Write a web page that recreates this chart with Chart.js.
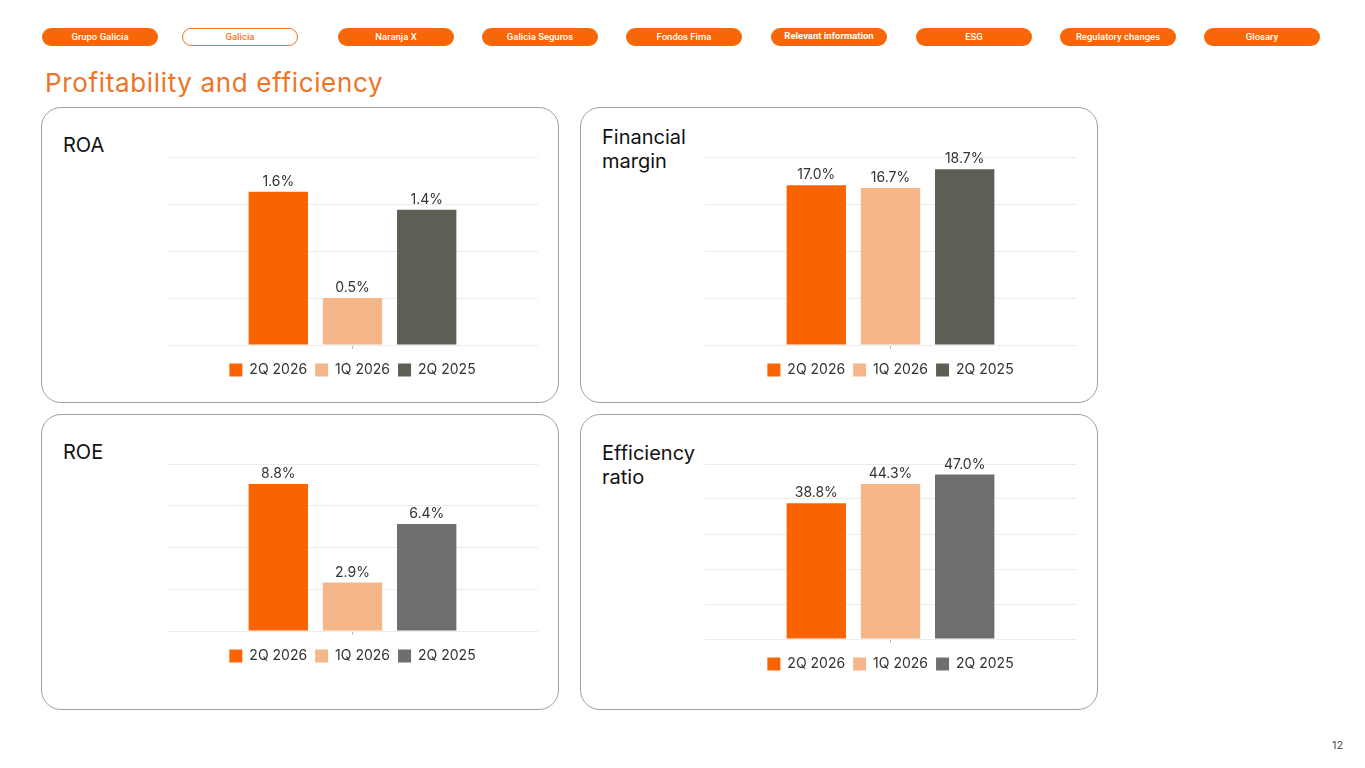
<!DOCTYPE html>
<html>
<head>
<meta charset="utf-8">
<title>Profitability and efficiency</title>
<script src="https://cdn.jsdelivr.net/npm/chart.js@4.4.1/dist/chart.umd.min.js"></script>
<style>
  html, body { margin: 0; padding: 0; background: #fff; }
  body { width: 1365px; height: 768px; position: relative; overflow: hidden; font-family: Inter, "Noto Sans", sans-serif; }
  .pill {
    position: absolute; top: 28px; width: 116px; height: 18px; box-sizing: border-box;
    border-radius: 9px; background: #f76707; color: #fff;
    font: 500 9.5px Roboto, sans-serif; line-height: 18px; text-align: center;
  }
  .pill.active { background: #fff; color: #f0782a; border: 1.5px solid #f0782a; line-height: 15px; }
  h1 {
    position: absolute; left: 45px; top: 67px; margin: 0;
    font: 400 26px Inter, sans-serif; letter-spacing: 0.65px; color: #ef7425; line-height: 32px;
  }
  .card {
    position: absolute; width: 518px; height: 296px; box-sizing: border-box;
    border: 1px solid #a0a0a0; border-radius: 20px;
  }
  .card-title {
    position: absolute; font: 400 20px Inter, sans-serif; line-height: 24px; color: #111;
  }
  canvas { position: absolute; }
  .page-num { position: absolute; left: 1332px; top: 738px; font: 400 11px Inter, sans-serif; color: #555; }
</style>
</head>
<body>

<div class="pill" style="left:42px">Grupo Galicia</div>
<div class="pill active" style="left:182px">Galicia</div>
<div class="pill" style="left:338px">Naranja X</div>
<div class="pill" style="left:482px">Galicia Seguros</div>
<div class="pill" style="left:626px">Fondos Fima</div>
<div class="pill" style="left:771px;line-height:16px;font-weight:700">Relevant information</div>
<div class="pill" style="left:916px">ESG</div>
<div class="pill" style="left:1060px">Regulatory changes</div>
<div class="pill" style="left:1204px">Glosary</div>

<h1>Profitability and efficiency</h1>

<div class="card" style="left:41px;top:107px"></div>
<div class="card" style="left:580px;top:107px"></div>
<div class="card" style="left:41px;top:414px"></div>
<div class="card" style="left:580px;top:414px"></div>

<div class="card-title" style="left:63px;top:133px">ROA</div>
<div class="card-title" style="left:602px;top:125px">Financial<br>margin</div>
<div class="card-title" style="left:63px;top:440px">ROE</div>
<div class="card-title" style="left:602px;top:441px">Efficiency<br>ratio</div>

<canvas id="roaChart" width="371" height="252" style="left:167px;top:135px"></canvas>
<canvas id="marginChart" width="371" height="252" style="left:705px;top:135px"></canvas>
<canvas id="roeChart" width="371" height="231" style="left:167px;top:442px"></canvas>
<canvas id="efficiencyChart" width="371" height="239" style="left:705px;top:442px"></canvas>

<div class="page-num">12</div>

<script>
// periods shown in every chart (one dataset each)
const periods = ["2Q 2026", "1Q 2026", "2Q 2025"];

// values in %
const roaValues = [1.63, 0.5, 1.44];
const marginValues = [17.0, 16.7, 18.7];
const roeValues = [8.8, 2.9, 6.4];
const efficiencyValues = [38.8, 44.3, 47.0];

// axis ranges
const roaAxis = { max: 2, step: 0.5 };
const marginAxis = { max: 20, step: 5 };
const roeAxis = { max: 10, step: 2.5 };
const efficiencyAxis = { max: 50, step: 10 };

const ORANGE = "#fa6400";
const LIGHT_ORANGE = "#f5b688";
const DARK_GREY = "#5e5e55";
const GREY = "#6e6e6e";

/** Draws the value above each bar */
const valueLabels = {
    id: "valueLabels",
    afterDatasetsDraw(chart) {
        const ctx = chart.ctx;
        ctx.save();
        ctx.font = "14px Inter";
        ctx.fillStyle = "#333";
        ctx.textAlign = "center";
        ctx.textBaseline = "alphabetic";
        chart.data.datasets.forEach((ds, i) => {
            chart.getDatasetMeta(i).data.forEach((bar, j) => {
                ctx.fillText(ds.data[j].toFixed(1) + "%", bar.x, bar.y - 6);
            });
        });
        ctx.restore();
    },
};

/** Build one bar chart */
function renderChart(canvasId, values, axis, lastColor) {
    const colors = [ORANGE, LIGHT_ORANGE, lastColor];
    const ctx = document.getElementById(canvasId).getContext("2d");

    return new Chart(ctx, {
        type: "bar",
        data: {
            labels: [""],
            datasets: periods.map((label, i) => ({
                label,
                data: [values[i]],
                backgroundColor: colors[i],
                categoryPercentage: 0.6,
                barPercentage: 0.8,
            })),
        },
        options: {
            responsive: false,
            animation: false,
            devicePixelRatio: 1,
            layout: { padding: { top: 22, left: 0, right: 0, bottom: 0 } },
            scales: {
                x: {
                    ticks: { display: false },
                    border: { display: false },
                    grid: {
                        drawOnChartArea: false,
                        drawTicks: true,
                        tickLength: 4,
                        offset: false,
                        color: "#bbbbbb",
                    },
                    afterFit(scale) {
                        scale.height += 6; // push the legend a bit lower
                    },
                },
                y: {
                    min: 0,
                    max: axis.max,
                    ticks: { display: false, stepSize: axis.step },
                    border: { display: false },
                    grid: { drawTicks: false, color: "#ececec" },
                },
            },
            plugins: {
                legend: {
                    position: "bottom",
                    labels: {
                        boxWidth: 13,
                        boxHeight: 13,
                        padding: 8,
                        color: "#333",
                        font: { family: "Inter", size: 14 },
                    },
                },
                tooltip: { enabled: false },
            },
        },
        plugins: [valueLabels],
    });
}

renderChart("roaChart", roaValues, roaAxis, DARK_GREY);
renderChart("marginChart", marginValues, marginAxis, DARK_GREY);
renderChart("roeChart", roeValues, roeAxis, GREY);
renderChart("efficiencyChart", efficiencyValues, efficiencyAxis, GREY);
</script>
</body>
</html>
